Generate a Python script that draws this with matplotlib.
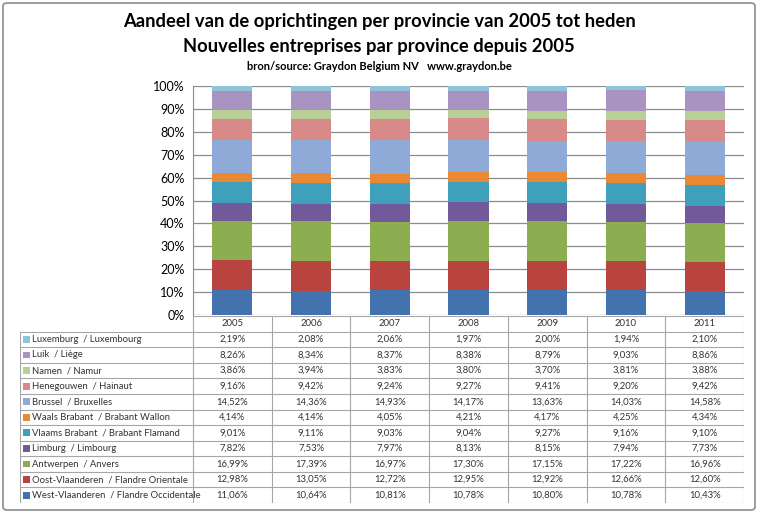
import matplotlib
matplotlib.use("Agg")
import matplotlib.pyplot as plt
from matplotlib.patches import FancyBboxPatch, Rectangle
import numpy as np

years = ["2005", "2006", "2007", "2008", "2009", "2010", "2011"]

# stacking order bottom -> top
provinces = [
    "West-Vlaanderen  / Flandre Occidentale",
    "Oost-Vlaanderen  / Flandre Orientale",
    "Antwerpen  / Anvers",
    "Limburg  / Limbourg",
    "Vlaams Brabant  / Brabant Flamand",
    "Waals Brabant  / Brabant Wallon",
    "Brussel  / Bruxelles",
    "Henegouwen  / Hainaut",
    "Namen  / Namur",
    "Luik  / Liège",
    "Luxemburg  / Luxembourg",
]

west_vlaanderen = [11.06, 10.64, 10.81, 10.78, 10.80, 10.78, 10.43]
oost_vlaanderen = [12.98, 13.05, 12.72, 12.95, 12.92, 12.66, 12.60]
antwerpen = [16.99, 17.39, 16.97, 17.30, 17.15, 17.22, 16.96]
limburg = [7.82, 7.53, 7.97, 8.13, 8.15, 7.94, 7.73]
vlaams_brabant = [9.01, 9.11, 9.03, 9.04, 9.27, 9.16, 9.10]
waals_brabant = [4.14, 4.14, 4.05, 4.21, 4.17, 4.25, 4.34]
brussel = [14.52, 14.36, 14.93, 14.17, 13.63, 14.03, 14.58]
henegouwen = [9.16, 9.42, 9.24, 9.27, 9.41, 9.20, 9.42]
namen = [3.86, 3.94, 3.83, 3.80, 3.70, 3.81, 3.88]
luik = [8.26, 8.34, 8.37, 8.38, 8.79, 9.03, 8.86]
luxemburg = [2.19, 2.08, 2.06, 1.97, 2.00, 1.94, 2.10]

series = [west_vlaanderen, oost_vlaanderen, antwerpen, limburg, vlaams_brabant,
          waals_brabant, brussel, henegouwen, namen, luik, luxemburg]

colors = ["#4472AE", "#B9433F", "#8DAE50", "#72599A", "#3FA0BB", "#EB8833",
          "#8FAAD6", "#D88A88", "#B8D096", "#A893C3", "#8FC3DA"]

FONT = "Lato"
plt.rcParams["font.family"] = [FONT, "DejaVu Sans"]

W, H = 758, 513
fig = plt.figure(figsize=(W / 100, H / 100), dpi=100)

def fx(px):
    return px / W

def fy(py):
    return 1 - py / H

# outer border
bx0, by0, bx1, by1 = 3, 3, 755, 510
fig.patches.append(FancyBboxPatch((fx(bx0), fy(by1)), fx(bx1 - bx0), (by1 - by0) / H,
                                  boxstyle="round,pad=0,rounding_size=0.006",
                                  transform=fig.transFigure, fill=False,
                                  edgecolor="#8c8c8c", linewidth=1.2))

# titles
fig.text(0.5, fy(22), "Aandeel van de oprichtingen per provincie van 2005 tot heden",
         ha="center", va="center", fontsize=13.2, fontweight="bold")
fig.text(0.5, fy(47), "Nouvelles entreprises par province depuis 2005",
         ha="center", va="center", fontsize=13.2, fontweight="bold")
fig.text(0.5, fy(66), "bron/source: Graydon Belgium NV   www.graydon.be",
         ha="center", va="center", fontsize=8, fontweight="bold")

# main axes
x0, x1 = 193, 744
ytop, ybot = 86, 315
ax = fig.add_axes([fx(x0), fy(ybot), fx(x1 - x0), (ybot - ytop) / H])
x = np.arange(len(years))
bottom = np.zeros(len(years))
totals = np.sum(series, axis=0)
for vals, col in zip(series, colors):
    v = np.array(vals) / totals * 100
    ax.bar(x, v, bottom=bottom, width=0.51, color=col, edgecolor="none", zorder=3)
    bottom += v
ax.set_xlim(-0.5, len(years) - 0.5)
ax.set_ylim(0, 100)
ax.set_yticks(np.arange(0, 101, 10))
ax.set_yticklabels([f"{t}%" for t in range(0, 101, 10)], fontsize=9)
ax.yaxis.grid(True, color="#8c8c8c", linewidth=0.9, zorder=0)
ax.set_xticks([])
for s in ["top", "right", "bottom"]:
    ax.spines[s].set_visible(False)
ax.spines["left"].set_color("#8c8c8c")
ax.tick_params(axis="y", length=0, pad=6)

# data table
tx0 = 20
ttop, tbot = 316, 503
cat_w = (x1 - x0) / len(years)
left_w = (x0 - tx0) / cat_w
tax = fig.add_axes([fx(tx0), fy(tbot), fx(x1 - tx0), (tbot - ttop) / H])
tax.set_xlim(-0.5 - left_w, len(years) - 0.5)
nrows = len(provinces) + 1
tax.set_ylim(nrows, 0)
tax.axis("off")
lc = "#a6a6a6"
lw = 0.8
tcol = "#333333"
# header row
for i, yr in enumerate(years):
    tax.text(i, 0.5, yr, ha="center", va="center", fontsize=6.8, color=tcol)
# horizontal lines
tax.plot([-0.5, len(years) - 0.5], [0, 0], color=lc, lw=lw)
for r in range(1, nrows + 1):
    tax.plot([-0.5 - left_w, len(years) - 0.5], [r, r], color=lc, lw=lw)
# vertical lines
tax.plot([-0.5 - left_w] * 2, [1, nrows], color=lc, lw=lw)
for i in range(len(years) + 1):
    tax.plot([i - 0.5] * 2, [0, nrows], color=lc, lw=lw)

rows_top_down = list(range(len(provinces)))[::-1]
for r, si in enumerate(rows_top_down, start=1):
    ypos = r + 0.5
    sq = 0.09
    tax.add_patch(Rectangle((-0.5 - left_w + 0.035, ypos - 0.22), sq, 0.44,
                            color=colors[si], lw=0))
    tax.text(-0.5 - left_w + 0.15, ypos, provinces[si], ha="left", va="center",
             fontsize=6.8, color=tcol)
    for i, v in enumerate(series[si]):
        tax.text(i, ypos, f"{v:.2f}%".replace(".", ","), ha="center",
                 va="center", fontsize=6.8, color=tcol)

fig.savefig("out.png", dpi=100)
